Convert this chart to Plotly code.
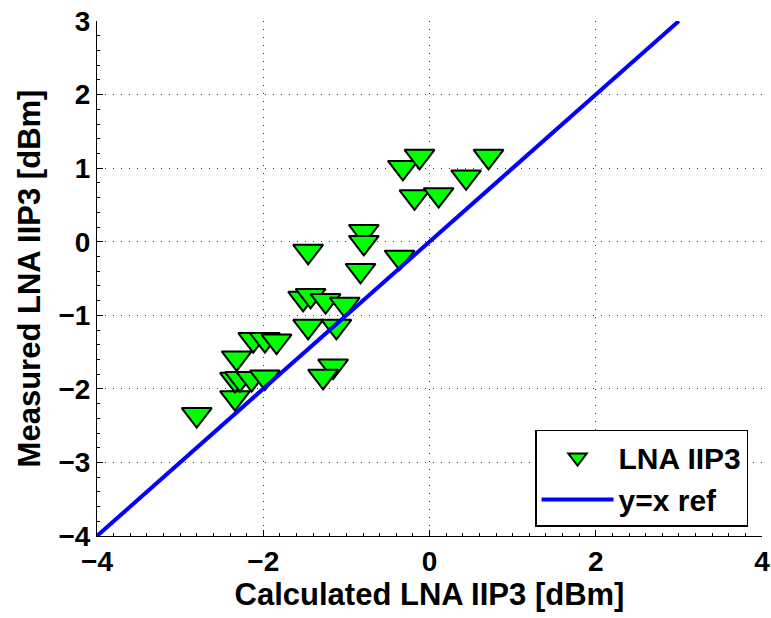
import plotly.graph_objects as go

# Calculated vs. measured LNA IIP3 (dBm)
calc_iip3 = [-2.80, -2.34, -2.32, -2.34, -2.28, -2.14, -1.98, -2.12, -1.98, -1.84,
             -1.46, -1.52, -1.43, -1.25, -1.02, -1.46, -1.12, -1.16, -1.28,
             -0.79, -0.79, -0.83, -0.36, -0.32, -0.12, -0.18, 0.11, 0.44, 0.71]
meas_iip3 = [-2.35, -2.12, -1.58, -1.87, -1.86, -1.86, -1.84, -1.33, -1.33, -1.35,
             -0.13, -0.77, -0.73, -0.80, -0.85, -1.15, -1.15, -1.69, -1.83,
             0.14, -0.01, -0.39, -0.21, 1.01, 1.16, 0.61, 0.64, 0.88, 1.16]

# y = x reference line end points
ref_x = [-4, 3]
ref_y = [-4, 3]

x_ticks = [-4, -2, 0, 2, 4]
y_ticks = [-4, -3, -2, -1, 0, 1, 2, 3]

FONT = "Liberation Sans, Arial, Helvetica, sans-serif"

fig = go.Figure()
fig.add_trace(go.Scatter(
    x=calc_iip3, y=meas_iip3, mode="markers", name="LNA IIP3",
    marker=dict(symbol="triangle-down", size=26, color="#00FF00",
                line=dict(color="black", width=2)),
))
fig.add_trace(go.Scatter(
    x=ref_x, y=ref_y, mode="lines", name="y=x ref",
    line=dict(color="#0000FF", width=4),
))

axis_common = dict(
    automargin=False,
    showgrid=True, gridcolor="#333333", griddash="1px,7px", gridwidth=1,
    zeroline=False, showline=True, linecolor="black", linewidth=1,
    ticks="inside", ticklen=6, tickcolor="black",
    tickfont=dict(family=FONT, size=28, color="black", weight="bold"),
    minor=dict(ticks="inside", ticklen=3, tickcolor="black", showgrid=False),
)

fig.update_xaxes(
    range=[-4, 4], tickvals=x_ticks, minor_dtick=0.2,
    title=dict(text="Calculated LNA IIP3 [dBm]", standoff=6,
               font=dict(family=FONT, size=31, color="black", weight="bold")),
    **axis_common,
)
fig.update_yaxes(
    range=[-4, 3], tickvals=y_ticks, minor_dtick=0.2,
    title=dict(text="Measured LNA IIP3 [dBm]", standoff=8,
               font=dict(family=FONT, size=31, color="black", weight="bold")),
    **axis_common,
)

fig.update_layout(
    width=771, height=618,
    margin=dict(l=97, r=9, t=21, b=82),
    plot_bgcolor="white", paper_bgcolor="white",
    legend=dict(
        x=0.979, y=0.0175, xanchor="right", yanchor="bottom",
        bgcolor="white", bordercolor="black", borderwidth=1.5,
        font=dict(family=FONT, size=30, color="black", weight="bold"),
        itemwidth=72,
    ),
)

fig.write_html("out.html")
